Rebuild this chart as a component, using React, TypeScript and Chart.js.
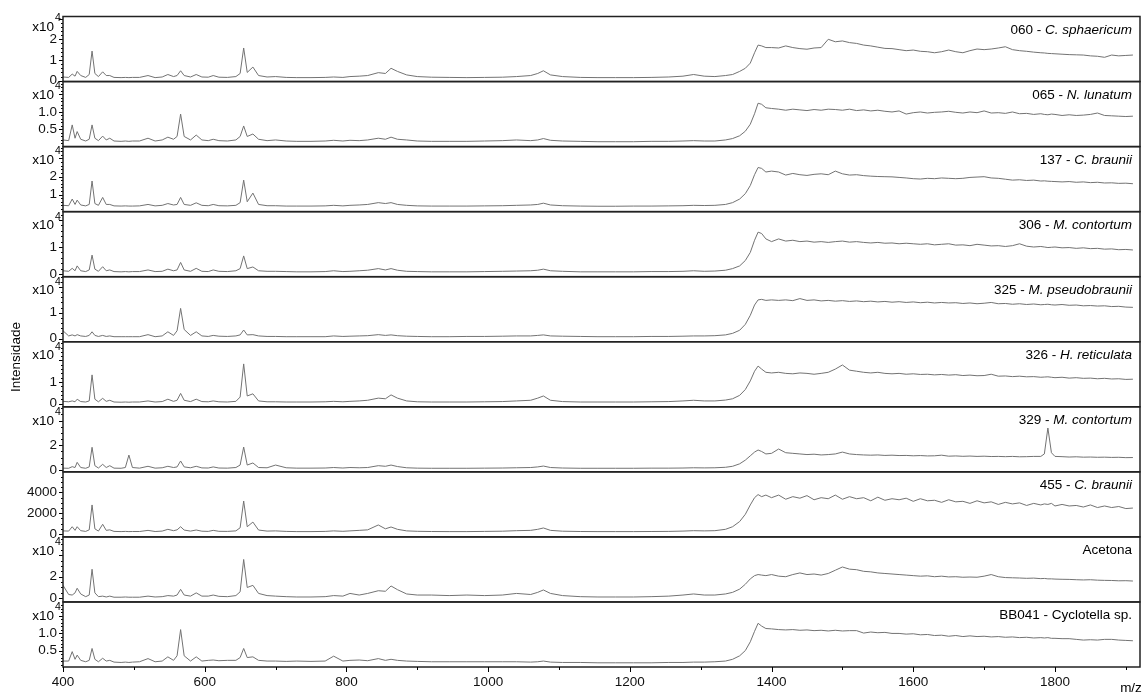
import React, { useEffect, useRef } from 'react';
import { Chart, registerables } from 'chart.js';

Chart.register(...registerables);

const FONT = '"Liberation Sans", Arial, Helvetica, sans-serif';

// shared m/z grid, low-mass region
const MZ_LOW = [
  400, 408, 413, 417, 420, 425, 432, 437, 441, 445,
  450, 456, 461, 466, 472, 482, 488, 493, 498, 508,
  520, 530, 540, 548, 556, 561, 566, 571, 580, 588,
  596, 605, 612, 620, 632, 644, 650, 655, 660, 668,
  676, 688, 700, 715, 730, 750, 770, 782, 795, 805,
  818, 830, 845, 855, 863, 872, 885, 900, 920, 945,
  970, 995, 1020, 1040, 1060, 1070, 1078, 1088, 1105, 1130,
  1155, 1180, 1205, 1230, 1255, 1275, 1290, 1305, 1320, 1335,
  1345, 1355, 1363, 1370, 1376, 1381, 1386, 1392,
];
// shared m/z grid, high-mass plateau
const MZ_HIGH = [
  1400, 1410, 1420, 1430, 1440, 1450, 1460, 1470, 1480, 1490,
  1500, 1510, 1520, 1530, 1540, 1550, 1560, 1570, 1580, 1590,
  1600, 1610, 1620, 1630, 1640, 1650, 1660, 1670, 1680, 1690,
  1700, 1710, 1720, 1730, 1740, 1750, 1760, 1770, 1780, 1785,
  1790, 1795, 1800, 1810, 1820, 1830, 1840, 1850, 1860, 1870,
  1880, 1890, 1900, 1910,
];

// 060 - C. sphaericum (x10^4)
const S060_LOW = [
  0.18, 0.16, 0.32, 0.22, 0.45, 0.25, 0.16, 0.3, 1.43, 0.35,
  0.2, 0.43, 0.25, 0.25, 0.16, 0.15, 0.16, 0.15, 0.16, 0.16,
  0.25, 0.15, 0.18, 0.3, 0.2, 0.25, 0.48, 0.25, 0.18, 0.3,
  0.18, 0.17, 0.25, 0.17, 0.16, 0.2, 0.35, 1.58, 0.4, 0.66,
  0.25, 0.18, 0.2, 0.16, 0.15, 0.15, 0.16, 0.18, 0.16, 0.2,
  0.22, 0.25, 0.39, 0.35, 0.6, 0.45, 0.28, 0.2, 0.17, 0.16,
  0.15, 0.16, 0.17, 0.2, 0.25, 0.35, 0.48, 0.28, 0.2, 0.16,
  0.15, 0.15, 0.15, 0.16, 0.18, 0.22, 0.3, 0.22, 0.2, 0.25,
  0.3, 0.45, 0.6, 0.85, 1.35, 1.72, 1.68, 1.6,
];
const S060_HIGH = [
  1.6, 1.58, 1.68, 1.6, 1.55, 1.52, 1.58, 1.6, 2.0, 1.88,
  1.92, 1.84, 1.8, 1.72, 1.68, 1.62, 1.56, 1.55, 1.5, 1.45,
  1.48, 1.42, 1.4, 1.35, 1.4, 1.48, 1.4, 1.35, 1.45, 1.53,
  1.5, 1.53, 1.58, 1.64, 1.5, 1.45, 1.42, 1.38, 1.35, 1.34,
  1.32, 1.31, 1.3, 1.28, 1.26, 1.25, 1.24, 1.2, 1.18, 1.13,
  1.24, 1.2, 1.22, 1.24,
];

// 065 - N. lunatum (x10^4)
const S065_LOW = [
  0.2, 0.18, 0.63, 0.25, 0.44, 0.22, 0.17, 0.22, 0.63, 0.25,
  0.18, 0.31, 0.2, 0.25, 0.17, 0.16, 0.17, 0.16, 0.17, 0.17,
  0.25, 0.17, 0.2, 0.28, 0.22, 0.3, 0.94, 0.3, 0.2, 0.34,
  0.2, 0.18, 0.22, 0.18, 0.17, 0.2, 0.3, 0.6, 0.3, 0.37,
  0.22, 0.18, 0.2, 0.17, 0.16, 0.16, 0.17, 0.19, 0.17, 0.19,
  0.18, 0.2, 0.25, 0.22, 0.28, 0.22, 0.2, 0.17, 0.16, 0.16,
  0.16, 0.17, 0.18, 0.2, 0.18, 0.2, 0.24, 0.19, 0.17, 0.16,
  0.15, 0.15, 0.15, 0.16, 0.16, 0.17, 0.18, 0.17, 0.17, 0.2,
  0.24, 0.32, 0.45, 0.65, 0.95, 1.25, 1.22, 1.12,
];
const S065_HIGH = [
  1.1, 1.08, 1.05, 1.08, 1.06, 1.04, 1.07, 1.05, 1.08, 1.07,
  1.05, 1.08, 1.04, 1.06, 1.03, 1.05, 1.02, 1.0, 1.03, 0.94,
  0.98, 1.0, 0.97, 0.99, 1.0, 1.02, 0.99, 0.97, 1.0, 0.98,
  1.03, 0.97, 0.98, 0.96, 1.0, 0.95, 0.96, 0.93, 0.95, 0.93,
  0.92, 0.94, 0.93, 0.9, 0.92, 0.9, 0.91, 0.93, 0.97, 0.9,
  0.89, 0.88, 0.87, 0.88,
];

// 137 - C. braunii (x10^4)
const S137_LOW = [
  0.4, 0.38, 0.75, 0.45, 0.69, 0.42, 0.37, 0.45, 1.75, 0.5,
  0.4, 0.84, 0.45, 0.45, 0.37, 0.36, 0.37, 0.36, 0.36, 0.37,
  0.45, 0.37, 0.4, 0.5, 0.42, 0.45, 0.84, 0.45, 0.4, 0.54,
  0.4, 0.38, 0.45, 0.38, 0.37, 0.4, 0.55, 1.8, 0.6, 1.08,
  0.45, 0.38, 0.38, 0.36, 0.36, 0.36, 0.37, 0.4, 0.37, 0.4,
  0.42, 0.45, 0.55, 0.5, 0.55, 0.45, 0.4, 0.37, 0.36, 0.36,
  0.36, 0.37, 0.38, 0.4, 0.42, 0.45, 0.52, 0.42, 0.38, 0.36,
  0.35, 0.35, 0.36, 0.36, 0.37, 0.38, 0.4, 0.39, 0.4, 0.45,
  0.55, 0.75, 1.05, 1.5, 2.1, 2.5, 2.45, 2.25,
];
const S137_HIGH = [
  2.3, 2.25, 2.08, 2.17, 2.1, 2.06, 2.12, 2.15, 2.1, 2.3,
  2.15, 2.08, 2.1, 2.05, 2.02, 2.0, 1.99, 1.98, 1.95, 1.92,
  1.88, 1.86, 1.9, 1.88, 1.92, 1.9, 1.88, 1.9, 1.95, 1.97,
  1.99, 1.92, 1.9, 1.85, 1.8, 1.82, 1.78, 1.8, 1.75, 1.76,
  1.74, 1.73, 1.72, 1.7, 1.72, 1.68, 1.7, 1.66, 1.68, 1.64,
  1.65, 1.62, 1.63, 1.6,
];

// 306 - M. contortum (x10^4)
const S306_LOW = [
  0.12, 0.1, 0.21, 0.12, 0.3, 0.12, 0.09, 0.15, 0.7, 0.18,
  0.1, 0.27, 0.12, 0.15, 0.09, 0.08, 0.09, 0.08, 0.09, 0.09,
  0.15, 0.09, 0.1, 0.18, 0.12, 0.15, 0.43, 0.15, 0.1, 0.21,
  0.1, 0.09, 0.15, 0.1, 0.09, 0.12, 0.2, 0.67, 0.2, 0.26,
  0.12, 0.1, 0.1, 0.09, 0.08, 0.08, 0.09, 0.12, 0.09, 0.1,
  0.12, 0.14, 0.2, 0.15, 0.2, 0.14, 0.1, 0.09, 0.08, 0.08,
  0.08, 0.09, 0.1, 0.11, 0.12, 0.14, 0.18, 0.12, 0.1, 0.08,
  0.08, 0.08, 0.08, 0.09, 0.09, 0.1, 0.12, 0.1, 0.11, 0.14,
  0.2, 0.3, 0.5, 0.8, 1.25, 1.55, 1.5, 1.3,
];
const S306_HIGH = [
  1.2, 1.3, 1.22, 1.25, 1.2, 1.22, 1.18, 1.2, 1.17, 1.2,
  1.22, 1.18, 1.2, 1.17, 1.15, 1.17, 1.14, 1.15, 1.12, 1.14,
  1.12, 1.1, 1.12, 1.08, 1.1, 1.12, 1.07, 1.08, 1.05, 1.1,
  1.07, 1.04, 1.05, 1.02, 1.05, 1.12, 1.03, 1.0, 1.02, 1.0,
  0.98, 0.99, 1.0, 0.97, 0.98, 0.95, 0.97, 0.94, 0.95, 0.92,
  0.93, 0.9, 0.91, 0.89,
];

// 325 - M. pseudobraunii (x10^4)
const S325_LOW = [
  0.3, 0.1, 0.14, 0.1, 0.15, 0.1, 0.08, 0.12, 0.26, 0.12,
  0.08, 0.12, 0.08, 0.1, 0.07, 0.07, 0.07, 0.07, 0.07, 0.07,
  0.15, 0.07, 0.1, 0.26, 0.12, 0.3, 1.17, 0.35, 0.12, 0.26,
  0.1, 0.08, 0.12, 0.09, 0.08, 0.1, 0.14, 0.33, 0.14, 0.15,
  0.1, 0.08, 0.08, 0.07, 0.07, 0.07, 0.07, 0.1, 0.08, 0.09,
  0.1, 0.11, 0.15, 0.12, 0.14, 0.11, 0.09, 0.08, 0.07, 0.07,
  0.08, 0.08, 0.09, 0.1, 0.1, 0.12, 0.14, 0.1, 0.09, 0.08,
  0.07, 0.07, 0.07, 0.08, 0.08, 0.09, 0.1, 0.1, 0.11, 0.14,
  0.2, 0.32, 0.55, 0.9, 1.3, 1.5, 1.52, 1.48,
];
const S325_HIGH = [
  1.5, 1.48, 1.5, 1.47, 1.55, 1.48, 1.5, 1.46, 1.48, 1.45,
  1.47, 1.44, 1.46, 1.43, 1.45, 1.42, 1.44, 1.41, 1.43, 1.4,
  1.42, 1.39, 1.41, 1.38, 1.4, 1.38, 1.39, 1.36, 1.38, 1.35,
  1.37, 1.4, 1.35, 1.36, 1.33, 1.35, 1.32, 1.34, 1.31, 1.32,
  1.33, 1.31, 1.3, 1.32, 1.29, 1.3, 1.27, 1.28, 1.26, 1.27,
  1.24, 1.25, 1.22, 1.21,
];

// 326 - H. reticulata (x10^4)
const S326_LOW = [
  0.1, 0.08, 0.12, 0.08, 0.2, 0.09, 0.07, 0.12, 1.33, 0.2,
  0.08, 0.24, 0.1, 0.15, 0.07, 0.06, 0.07, 0.06, 0.07, 0.07,
  0.12, 0.07, 0.09, 0.2, 0.1, 0.15, 0.47, 0.15, 0.09, 0.2,
  0.09, 0.08, 0.12, 0.08, 0.07, 0.1, 0.3, 1.84, 0.35, 0.45,
  0.12, 0.08, 0.08, 0.07, 0.07, 0.07, 0.08, 0.1, 0.08, 0.1,
  0.12, 0.15, 0.25, 0.22, 0.4, 0.25, 0.12, 0.08, 0.07, 0.07,
  0.07, 0.08, 0.09, 0.12, 0.15, 0.25, 0.35, 0.15, 0.09, 0.07,
  0.07, 0.07, 0.07, 0.08, 0.09, 0.12, 0.15, 0.12, 0.12, 0.16,
  0.22, 0.38, 0.65, 1.05, 1.5, 1.74, 1.6, 1.45,
];
const S326_HIGH = [
  1.42, 1.45, 1.4, 1.38, 1.42, 1.4, 1.36, 1.4, 1.45, 1.6,
  1.79, 1.55, 1.5, 1.45, 1.42, 1.45, 1.4, 1.38, 1.4, 1.36,
  1.38, 1.35, 1.36, 1.33, 1.35, 1.32, 1.34, 1.3, 1.32, 1.29,
  1.3, 1.36, 1.27, 1.28, 1.25, 1.27, 1.24, 1.25, 1.22, 1.23,
  1.24, 1.22, 1.2, 1.22, 1.18, 1.2, 1.17, 1.18, 1.15, 1.17,
  1.14, 1.15, 1.12, 1.13,
];

// 329 - M. contortum (x10^4)
const S329_LOW = [
  0.15, 0.14, 0.27, 0.2, 0.62, 0.2, 0.14, 0.25, 1.84, 0.35,
  0.16, 0.46, 0.2, 0.35, 0.15, 0.14, 0.2, 1.21, 0.2, 0.15,
  0.3, 0.15, 0.18, 0.3, 0.2, 0.25, 0.73, 0.25, 0.18, 0.3,
  0.17, 0.16, 0.25, 0.16, 0.15, 0.2, 0.4, 1.86, 0.4, 0.57,
  0.2, 0.18, 0.4, 0.18, 0.15, 0.15, 0.16, 0.2, 0.16, 0.2,
  0.18, 0.2, 0.35, 0.3, 0.4, 0.28, 0.18, 0.15, 0.14, 0.14,
  0.14, 0.15, 0.16, 0.18, 0.2, 0.25, 0.32, 0.2, 0.16, 0.14,
  0.14, 0.14, 0.14, 0.15, 0.15, 0.16, 0.18, 0.17, 0.18, 0.22,
  0.3, 0.5, 0.8, 1.15, 1.45, 1.62, 1.5, 1.3,
];
const S329_HIGH = [
  1.35, 1.7, 1.4, 1.35, 1.3, 1.25, 1.28, 1.22, 1.25, 1.3,
  1.45, 1.3, 1.25, 1.22, 1.2, 1.22, 1.18, 1.2, 1.17, 1.18,
  1.15, 1.17, 1.14, 1.15, 1.2, 1.12, 1.14, 1.11, 1.13, 1.1,
  1.12, 1.09, 1.1, 1.08, 1.1, 1.07, 1.08, 1.1, 1.1, 1.3,
  3.4, 1.4, 1.1, 1.08, 1.05, 1.07, 1.04, 1.05, 1.03, 1.04,
  1.02, 1.03, 1.0, 1.01,
];

// 455 - C. braunii (counts)
const S455_LOW = [
  300, 280, 700, 350, 700, 320, 250, 400, 2800, 500,
  280, 935, 350, 400, 250, 230, 250, 230, 240, 240,
  350, 240, 280, 450, 320, 400, 700, 380, 280, 385,
  270, 250, 350, 260, 250, 300, 600, 3180, 700, 1150,
  380, 280, 300, 250, 230, 230, 250, 300, 260, 300,
  350, 400, 870, 500, 675, 450, 300, 260, 240, 230,
  230, 250, 270, 320, 350, 450, 580, 350, 270, 240,
  230, 230, 230, 240, 250, 280, 320, 300, 320, 450,
  700, 1200, 1900, 2800, 3500, 3800, 3600, 3750,
];
const S455_HIGH = [
  3500, 3750, 3350, 3600, 3450, 3700, 3300, 3500, 3400, 3750,
  3350, 3600, 3400, 3500, 3200, 3550, 3250, 3400, 3300, 3450,
  3150, 3400, 3200, 3250, 3050, 3300, 3100, 3150, 2950, 3200,
  3000, 3100, 2850, 3050, 2900, 3000, 2750, 2950, 2800, 2900,
  2850, 2950, 2700, 2850, 2700, 2750, 2600, 2800, 2550, 2700,
  2550, 2650, 2450, 2500,
];

// Acetona (x10^4)
const SACE_LOW = [
  1.2, 0.35, 0.3, 0.5, 0.93, 0.4, 0.15, 0.3, 2.69, 0.5,
  0.15, 0.2, 0.12, 0.2, 0.1, 0.1, 0.12, 0.1, 0.1, 0.1,
  0.2, 0.12, 0.15, 0.25, 0.2, 0.3, 0.83, 0.3, 0.2, 0.5,
  0.2, 0.2, 0.3, 0.18, 0.15, 0.25, 0.6, 3.6, 1.0, 1.2,
  0.45, 0.25, 0.2, 0.15, 0.12, 0.12, 0.15, 0.25, 0.2, 0.45,
  0.3, 0.45, 0.7, 0.65, 1.14, 0.8, 0.4, 0.3, 0.3, 0.25,
  0.3, 0.25, 0.3, 0.45, 0.35, 0.55, 0.77, 0.45, 0.25, 0.15,
  0.12, 0.12, 0.12, 0.15, 0.2, 0.3, 0.4, 0.3, 0.3, 0.4,
  0.55, 0.85, 1.3, 1.8, 2.1, 2.2, 2.15, 2.1,
];
const SACE_HIGH = [
  2.2, 2.05, 2.0, 2.2, 2.35, 2.2, 2.25, 2.15, 2.3, 2.6,
  2.9, 2.7, 2.65, 2.5, 2.45, 2.35, 2.3, 2.25, 2.2, 2.15,
  2.1, 2.05, 2.08, 2.0, 2.05, 1.98, 2.0, 1.95, 1.97, 1.95,
  2.05, 2.2, 2.0, 1.92, 1.9, 1.88, 1.85, 1.87, 1.82, 1.84,
  1.8, 1.8, 1.78, 1.76, 1.75, 1.72, 1.7, 1.72, 1.68, 1.66,
  1.65, 1.62, 1.63, 1.6,
];

// BB041 - Cyclotella sp. (x10^4)
const SBB041_LOW = [
  0.2, 0.2, 0.47, 0.25, 0.37, 0.22, 0.18, 0.22, 0.56, 0.25,
  0.18, 0.28, 0.2, 0.22, 0.17, 0.16, 0.17, 0.16, 0.17, 0.18,
  0.27, 0.18, 0.2, 0.32, 0.22, 0.35, 1.1, 0.35, 0.2, 0.32,
  0.2, 0.22, 0.23, 0.21, 0.22, 0.22, 0.3, 0.56, 0.3, 0.32,
  0.22, 0.2, 0.2, 0.19, 0.2, 0.19, 0.2, 0.34, 0.2, 0.22,
  0.23, 0.21, 0.27, 0.22, 0.25, 0.22, 0.2, 0.19, 0.18, 0.18,
  0.18, 0.18, 0.18, 0.18, 0.17, 0.18, 0.2, 0.17, 0.16, 0.16,
  0.15, 0.15, 0.15, 0.15, 0.16, 0.16, 0.17, 0.17, 0.18, 0.2,
  0.25, 0.35, 0.5, 0.75, 1.05, 1.28, 1.2, 1.13,
];
const SBB041_HIGH = [
  1.12, 1.1, 1.09, 1.1, 1.08, 1.09, 1.07, 1.08, 1.06, 1.08,
  1.06, 1.07, 1.07, 1.0, 1.03, 1.01, 1.02, 0.99, 0.99, 0.97,
  0.98, 0.95, 0.96, 0.93, 0.94, 0.91, 0.93, 0.9, 0.92, 0.9,
  0.91, 0.89, 0.9, 0.88, 0.89, 0.87, 0.88, 0.86, 0.87, 0.86,
  0.87, 0.85, 0.85, 0.84, 0.84, 0.82, 0.8, 0.81, 0.8, 0.82,
  0.82, 0.8, 0.79, 0.78,
];

// panels listed top to bottom
const SERIES_LOW = [S060_LOW, S065_LOW, S137_LOW, S306_LOW, S325_LOW, S326_LOW, S329_LOW, S455_LOW, SACE_LOW, SBB041_LOW];
const SERIES_HIGH = [S060_HIGH, S065_HIGH, S137_HIGH, S306_HIGH, S325_HIGH, S326_HIGH, S329_HIGH, S455_HIGH, SACE_HIGH, SBB041_HIGH];

// panel titles: [plain part, italic part]
const TITLES: [string, string][] = [
  ['060 - ', 'C. sphaericum'],
  ['065 - ', 'N. lunatum'],
  ['137 - ', 'C. braunii'],
  ['306 - ', 'M. contortum'],
  ['325 - ', 'M. pseudobraunii'],
  ['326 - ', 'H. reticulata'],
  ['329 - ', 'M. contortum'],
  ['455 - ', 'C. braunii'],
  ['Acetona', ''],
  ['BB041 - Cyclotella sp.', ''],
];

// per-panel y axes
const Y_MIN = [-0.04, 0.01, 0.05, -0.1, -0.126, -0.153, -0.15, -280, -0.34, 0.03];
const Y_MAX = [3.1, 1.87, 3.66, 2.31, 2.4, 2.87, 5.12, 5990, 5.69, 1.89];
const Y_TICKS = [[0, 1, 2], [0.5, 1.0], [1, 2], [0, 1], [0, 1], [0, 1], [0, 2], [0, 2000, 4000], [0, 2], [0.5, 1.0]];
const Y_MAJOR = [1, 0.5, 1, 1, 1, 1, 2, 2000, 2, 0.5];
const Y_MINOR = [0.2, 0.1, 0.2, 0.2, 0.2, 0.2, 0.5, 500, 0.5, 0.1];
const Y_DECIMALS = [0, 1, 0, 0, 0, 0, 0, 0, 0, 1];
const Y_EXP = [true, true, true, true, true, true, true, false, true, true];

const X_TICKS = [400, 600, 800, 1000, 1200, 1400, 1600, 1800];
const X_MINOR = [500, 700, 900, 1100, 1300, 1500, 1700, 1900];
const X_MIN = 400;
const X_MAX = 1920;

const PANEL_IDS = SERIES_LOW.map((_, i) => `y${i}`);

const overlay = {
  id: 'overlay',
  afterDraw(chart: any) {
    const ctx = chart.ctx as CanvasRenderingContext2D;
    const area = chart.chartArea;
    ctx.save();
    PANEL_IDS.forEach((id, i) => {
      const s = chart.scales[id];
      // minor / major ticks
      ctx.strokeStyle = '#000';
      ctx.lineWidth = 1;
      ctx.beginPath();
      const mn = Y_MINOR[i];
      const maj = Y_MAJOR[i];
      const k0 = Math.ceil(Y_MIN[i] / mn - 1e-6);
      const k1 = Math.floor(Y_MAX[i] / mn + 1e-6);
      for (let k = k0; k <= k1; k++) {
        const v = k * mn;
        const r = v / maj;
        const isMajor = Math.abs(r - Math.round(r)) < 1e-6;
        const py = Math.round(s.getPixelForValue(v)) + 0.5;
        if (py < s.top || py > s.bottom) continue;
        ctx.moveTo(area.left - (isMajor ? 4 : 2), py);
        ctx.lineTo(area.left, py);
      }
      ctx.stroke();
      // frame
      ctx.strokeStyle = '#222';
      ctx.lineWidth = 1.5;
      ctx.strokeRect(area.left, s.top, area.right - area.left, s.bottom - s.top);
      // title
      const [plain, ital] = TITLES[i];
      const normalFont = `13.5px ${FONT}`;
      const italFont = `italic 13.5px ${FONT}`;
      ctx.font = normalFont;
      const w1 = ctx.measureText(plain).width;
      ctx.font = italFont;
      const w2 = ital ? ctx.measureText(ital).width : 0;
      const xr = area.right - 8;
      const ty = s.top + 17.5;
      ctx.fillStyle = '#000';
      ctx.textAlign = 'left';
      ctx.textBaseline = 'alphabetic';
      ctx.font = normalFont;
      ctx.fillText(plain, xr - w1 - w2, ty);
      if (ital) {
        ctx.font = italFont;
        ctx.fillText(ital, xr - w2, ty);
      }
      // exponent label
      if (Y_EXP[i]) {
        const off = i === 0 ? 10.5 : 14;
        ctx.textBaseline = 'middle';
        ctx.textAlign = 'right';
        ctx.font = `13.5px ${FONT}`;
        ctx.fillText('x10', 54, s.top + off);
        ctx.textAlign = 'left';
        ctx.font = `10.5px ${FONT}`;
        ctx.fillText('4', 55, s.top + off - 9);
      }
    });
    // x-axis ticks
    const xs = chart.scales.x;
    ctx.strokeStyle = '#000';
    ctx.lineWidth = 1;
    ctx.beginPath();
    X_TICKS.forEach((v) => {
      const px = Math.round(xs.getPixelForValue(v)) + 0.5;
      ctx.moveTo(px, area.bottom);
      ctx.lineTo(px, area.bottom + 5);
    });
    X_MINOR.forEach((v) => {
      const px = Math.round(xs.getPixelForValue(v)) + 0.5;
      ctx.moveTo(px, area.bottom);
      ctx.lineTo(px, area.bottom + 3);
    });
    ctx.stroke();
    // axis titles
    ctx.fillStyle = '#000';
    ctx.font = `13.5px ${FONT}`;
    ctx.textAlign = 'center';
    ctx.textBaseline = 'middle';
    ctx.fillText('m/z', 1131, 688);
    ctx.save();
    ctx.translate(16, 357);
    ctx.rotate(-Math.PI / 2);
    ctx.fillText('Intensidade', 0, 0);
    ctx.restore();
    ctx.restore();
  },
};

export default function App() {
  const ref = useRef<HTMLCanvasElement | null>(null);
  useEffect(() => {
    const canvas = ref.current;
    if (!canvas) return;
    SERIES_LOW.forEach((arr, i) => {
      if (arr.length !== MZ_LOW.length) throw new Error(`low series ${i} length ${arr.length} != ${MZ_LOW.length}`);
      if (SERIES_HIGH[i].length !== MZ_HIGH.length) throw new Error(`high series ${i} length ${SERIES_HIGH[i].length} != ${MZ_HIGH.length}`);
    });
    const datasets = PANEL_IDS.map((id, i) => ({
      data: [
        ...MZ_LOW.map((x, j) => ({ x, y: SERIES_LOW[i][j] })),
        ...MZ_HIGH.map((x, j) => ({ x, y: SERIES_HIGH[i][j] })),
      ],
      xAxisID: 'x',
      yAxisID: id,
      borderColor: '#737373',
      borderWidth: 1,
      pointRadius: 0,
      tension: 0,
      fill: false,
    }));
    const scales: any = {
      x: {
        type: 'linear',
        position: 'bottom',
        min: X_MIN,
        max: X_MAX,
        grid: { display: false, drawTicks: false },
        border: { display: false },
        afterBuildTicks: (s: any) => {
          s.ticks = X_TICKS.map((v) => ({ value: v }));
        },
        afterFit: (s: any) => {
          s.height = 28;
        },
        ticks: {
          padding: 7,
          color: '#111',
          font: { family: FONT, size: 13.5 },
          maxRotation: 0,
          autoSkip: false,
          callback: (v: any) => String(v),
        },
      },
    };
    // stacked axes are placed bottom-first, so register the bottom panel first
    for (let i = PANEL_IDS.length - 1; i >= 0; i--) {
      const id = PANEL_IDS[i];
      scales[id] = {
        type: 'linear',
        position: 'left',
        stack: 'spectra',
        stackWeight: 1,
        offset: false,
        min: Y_MIN[i],
        max: Y_MAX[i],
        grid: { display: false, drawTicks: false },
        border: { display: false },
        afterBuildTicks: (s: any) => {
          s.ticks = Y_TICKS[i].map((v) => ({ value: v }));
        },
        afterFit: (s: any) => {
          s.width = 55;
        },
        ticks: {
          padding: 6,
          color: '#111',
          autoSkip: false,
          font: { family: FONT, size: 13.5 },
          callback: (v: any) => (Y_DECIMALS[i] ? Number(v).toFixed(1) : String(v)),
        },
      };
    }
    const chart = new Chart(canvas, {
      type: 'line',
      data: { datasets },
      options: {
        responsive: false,
        animation: false,
        devicePixelRatio: 1,
        layout: { padding: { left: 8, right: 6, top: 16.5, bottom: 0 } },
        plugins: { legend: { display: false }, tooltip: { enabled: false } },
        scales,
      },
      plugins: [overlay],
    } as any);
    return () => chart.destroy();
  }, []);
  return (
    <div style={{ position: 'fixed', left: 0, top: 0, width: 1146, height: 695, background: '#fff' }}>
      <canvas ref={ref} width={1146} height={695} style={{ display: 'block' }} />
    </div>
  );
}
